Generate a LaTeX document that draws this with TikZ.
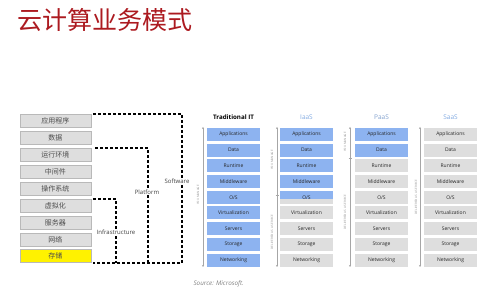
\documentclass[tikz,border=0pt]{standalone}
\usepackage{fontspec}
\setmainfont{Open Sans}
\newfontfamily\cjk{Noto Sans CJK SC}
\usetikzlibrary{arrows.meta}
\definecolor{mblue}{RGB}{141,179,240}
\definecolor{mgrey}{RGB}{222,222,222}
\definecolor{tred}{RGB}{172,26,32}
\definecolor{ttl}{RGB}{130,170,225}
\begin{document}
\begin{tikzpicture}[x=1pt,y=-1pt,
  cn/.style={draw=gray!55, fill=mgrey, minimum width=71pt, minimum height=13pt, inner sep=0pt, font=\cjk\fontsize{7}{8}\selectfont, text=black!70},
  stk/.style={minimum width=53pt, minimum height=13pt, inner sep=0pt, font=\fontsize{5}{5.5}\selectfont, text=black!85},
  mine/.style={stk, fill=mblue},
  svc/.style={stk, fill=mgrey},
  brk/.style={dash pattern=on 3pt off 2pt, line width=1.1pt},
  lbl/.style={fill=white, inner sep=1pt, font=\fontsize{6}{7}\selectfont, text=black!75},
  ttlstyle/.style={font=\fontsize{6.5}{7}\selectfont, text=ttl},
  ar/.style={draw=gray!70, line width=0.6pt},
  vt/.style={rotate=90, font=\fontsize{3}{3.5}\selectfont, text=gray!85, inner sep=0.5pt},
]
\useasboundingbox (0,0) rectangle (499,296);
% title
\node[anchor=west, inner sep=0pt, text=tred, font=\cjk\fontsize{25}{26}\selectfont] (title) at (17,20) {云计算业务模式};
% chinese column
\foreach \t [count=\i from 0] in {应用程序,数据,运行环境,中间件,操作系统,虚拟化,服务器,网络}
  \node[cn] (c\i) at (55.5,{121+16.9*\i}) {\t};
\node[cn, fill=yellow] (c8) at (55.5,{121+16.9*8}) {存储};
% brackets
\coordinate (swa) at (93,114); \coordinate (swb) at (182,114);
\coordinate (pfa) at (95,148); \coordinate (pfb) at (148,148);
\coordinate (ifa) at (93,199); \coordinate (ifb) at (116,199);
\coordinate (bta) at (93,263); \coordinate (btb) at (182,263);
\coordinate (pfc) at (148,263); \coordinate (ifc) at (116,263);
\draw[brk] (swa) -- (swb) -- (btb) -- (bta);
\draw[brk] (pfa) -- (pfb) -- (pfc);
\draw[brk] (ifa) -- (ifb) -- (ifc);
\node[lbl] (sw) at (177,181) {Software};
\node[lbl] (pf) at (147,192) {Platform};
\node[lbl] (inf) at (116,232) {Infrastructure};
% titles
\node[font=\bfseries\fontsize{6.2}{7}\selectfont] (t1) at (233.5,117) {Traditional IT};
\node[ttlstyle] (t2) at (306.5,117) {IaaS};
\node[ttlstyle, text=ttl!80!gray] (t3) at (381.5,117) {PaaS};
\node[ttlstyle] (t4) at (450.5,117) {SaaS};
% stacks
\foreach \t [count=\i from 0] in {Applications,Data,Runtime,Middleware,O/S,Virtualization,Servers,Storage,Networking}{
  \node[mine] (a\i) at (233.5,{134.5+15.7*\i}) {\t};
  \node[svc] (d\i) at (450.5,{134.5+15.7*\i}) {\t};
}
\foreach \t [count=\i from 0] in {Applications,Data,Runtime,Middleware}
  \node[mine] (b\i) at (306.5,{134.5+15.7*\i}) {\t};
\node[svc, path picture={\fill[mblue] (path picture bounding box.north west) rectangle ([yshift=-8pt]path picture bounding box.north east);}] (b4) at (306.5,{134.5+15.7*4}) {O/S};
\foreach \t [count=\i from 5] in {Virtualization,Servers,Storage,Networking}
  \node[svc] (b\i) at (306.5,{134.5+15.7*\i}) {\t};
\foreach \t [count=\i from 0] in {Applications,Data}
  \node[mine] (p\i) at (381.5,{134.5+15.7*\i}) {\t};
\foreach \t [count=\i from 2] in {Runtime,Middleware,O/S,Virtualization,Servers,Storage,Networking}
  \node[svc] (p\i) at (381.5,{134.5+15.7*\i}) {\t};
% arrows
\coordinate (ta1) at (203,127); \coordinate (ta2) at (203,267);
\draw[ar, {Stealth[length=2pt,width=2pt]}-{Stealth[length=2pt,width=2pt]}] (ta1) -- (ta2);
\node[vt] (tv) at (198,195) {YOU MANAGE};
\coordinate (ia1) at (277,127); \coordinate (ia2) at (277,195); \coordinate (ia3) at (277,267);
\draw[ar, {Stealth[length=2pt,width=2pt]}-] (ia1) -- (ia2);
\draw[ar, -{Stealth[length=2pt,width=2pt]}] (ia2) -- (ia3);
\draw[ar] ([xshift=-1.5pt]ia2) -- ([xshift=1.5pt]ia2);
\node[vt] (iv1) at (272,160) {YOU MANAGE};
\node[vt] (iv2) at (272,232) {DELIVERED AS A SERVICE};
\coordinate (pa1) at (350,127); \coordinate (pa2) at (350,158); \coordinate (pa3) at (350,267);
\draw[ar, {Stealth[length=2pt,width=2pt]}-] (pa1) -- (pa2);
\draw[ar, -{Stealth[length=2pt,width=2pt]}] (pa2) -- (pa3);
\draw[ar] ([xshift=-1.5pt]pa2) -- ([xshift=1.5pt]pa2);
\node[vt] (pv1) at (345,142) {YOU MANAGE};
\node[vt] (pv2) at (345,212) {DELIVERED AS A SERVICE};
\coordinate (sa1) at (420,127); \coordinate (sa2) at (420,267);
\draw[ar, {Stealth[length=2pt,width=2pt]}-{Stealth[length=2pt,width=2pt]}] (sa1) -- (sa2);
\node[vt] (sv) at (416,197) {DELIVERED AS A SERVICE};
% source
\node[anchor=west, text=gray, font=\itshape\fontsize{6.3}{7}\selectfont] (src) at (190,284) {Source: Microsoft.};
\end{tikzpicture}
\end{document}
